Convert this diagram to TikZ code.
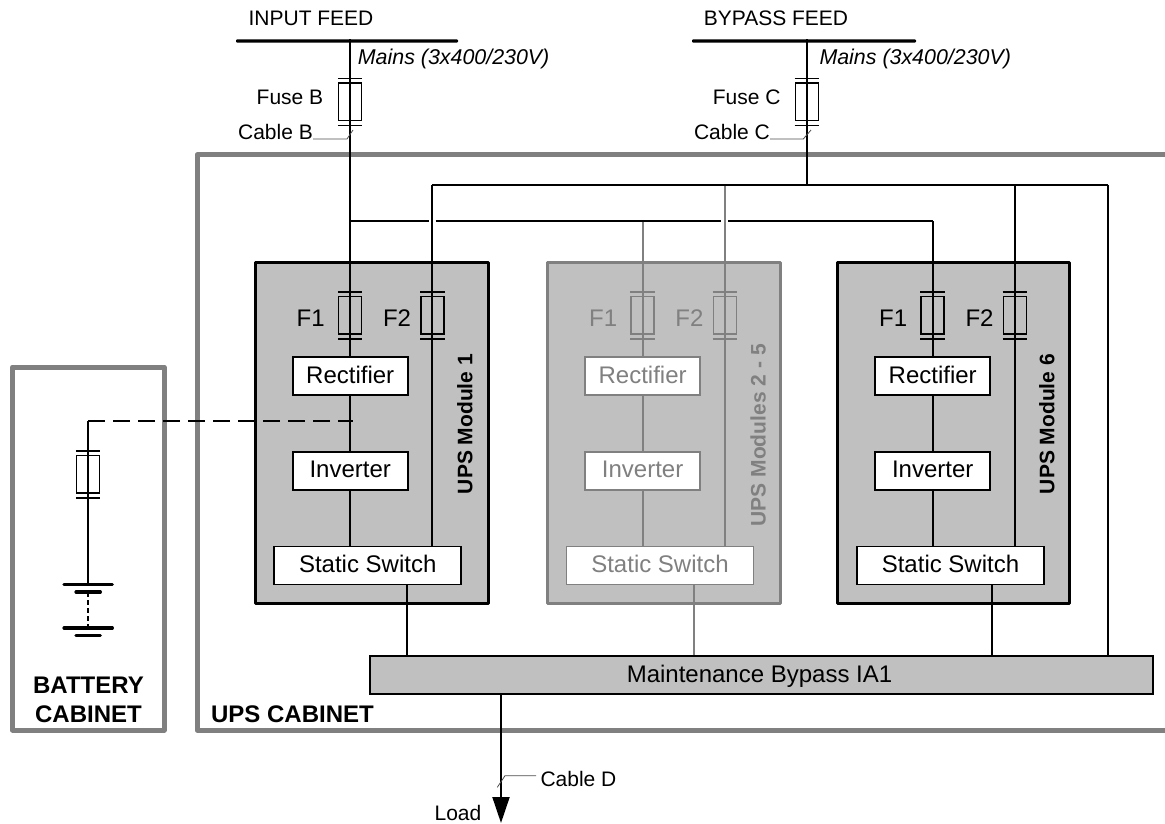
\documentclass[tikz,border=0pt]{standalone}
\usepackage{fontspec}
\setmainfont{Liberation Sans}
\usetikzlibrary{arrows.meta}
\definecolor{framegray}{HTML}{808080}
\definecolor{modfill}{HTML}{C0C0C0}
\newcommand\fsA{\fontsize{21}{24}\selectfont}
\newcommand\fsI{\fontsize{21.4}{24}\selectfont}
\newcommand\fsB{\fontsize{24}{26}\selectfont}
\newcommand\drawfuse[4]{%
  \node[fusebox,draw=#4] (#1) at (#2,#3) {};
  \draw[fusecap,draw=#4] ([yshift=4pt]#1.north west) -- ([yshift=4pt]#1.north east);
  \draw[fusecap,draw=#4] ([yshift=-4pt]#1.south west) -- ([yshift=-4pt]#1.south east);
}
\tikzset{
  x=1pt,y=-1pt,
  cabinet/.style={draw=framegray,line width=5pt,line join=round},
  modbox/.style={fill=modfill,line width=3pt,line join=round,minimum width=232.5pt,minimum height=340.5pt,inner sep=0pt},
  unitbox/.style={fill=white,line width=1.8pt,inner sep=0pt,minimum height=38pt,text height=14pt,text depth=0pt,font=\fsB,align=center},
  fusebox/.style={line width=1.5pt,minimum width=23pt,minimum height=37.5pt,inner sep=0pt},
  fusecap/.style={line width=1.5pt},
  wire/.style={line width=2pt},
  feedbar/.style={fill=black,inner sep=0pt,minimum height=3.2pt,rounded corners=1pt},
  plate/.style={line width=3.2pt,line cap=round},
  leader/.style={line width=0.8pt,draw=black!70},
  lbl/.style={font=\fsA,inner sep=0pt,anchor=base},
  lblit/.style={font=\fsI\itshape,inner sep=0pt,anchor=base west},
  boldlbl/.style={font=\fsB\bfseries,inner sep=0pt,anchor=base},
  unitlbl/.style={font=\fsB,inner sep=0pt,anchor=base},
  sidelbl/.style={font=\fsA\bfseries,inner sep=0pt,anchor=base,rotate=90}
}
\begin{document}
\begin{tikzpicture}
\useasboundingbox (0,0) rectangle (1165,824);
% cabinets
\draw[cabinet] (1170,155) -- (197,155) -- (197,730) -- (1170,730);
\draw[cabinet] (12.5,367) rectangle (164,730);
\node[boldlbl] (batlabA) at (88.5,693) {BATTERY};
\node[boldlbl] (batlabB) at (88.5,722) {CABINET};
\node[boldlbl] (upscab) at (292.5,722) {UPS CABINET};
% feeds
\node[feedbar,minimum width=222pt] (inbar) at (347,41) {};
\node[feedbar,minimum width=224pt] (bybar) at (804,41) {};
\node[lbl] (inlab) at (311,25.3) {INPUT FEED};
\node[lbl] (bylab) at (776,25.3) {BYPASS FEED};
\node[lblit] (mainsA) at (357.7,65) {Mains (3x400/230V)};
\node[lblit] (mainsB) at (819.3,65) {Mains (3x400/230V)};
\node[lbl] (fuseBl) at (290,105) {Fuse B};
\node[lbl] (cableBl) at (275.5,140) {Cable B};
\node[lbl] (fuseCl) at (746.7,105) {Fuse C};
\node[lbl] (cableCl) at (732,140) {Cable C};
\drawfuse{fuseB}{350.2}{102}{black}
\drawfuse{fuseC}{806.9}{102}{black}
% maintenance bypass
\node[draw,fill=modfill,line width=1.8pt,inner sep=0pt,minimum width=783.5pt,minimum height=38pt] (mbp) at (761.5,675) {};
\node[unitlbl] (mbplab) at (759.5,682.3) {Maintenance Bypass IA1};
% modules
\foreach \m/\dx/\cx/\col/\txt/\lx/\ly/\ox/\stx in {
  a/0/371.75/black/UPS Module 1/472.3/424/407/367.7,
  b/292.4/664/framegray/UPS Modules 2 - 5/765.7/435.3/694.3/660,
  c/582.5/953.25/black/UPS Module 6/1054.3/424/991.7/950.5}{
  \node[modbox,draw=\col] (mod\m) at (\cx,432.75) {};
  \node[unitbox,draw=\col,text=\col,minimum width=115pt] (rect\m) at (350.2+\dx,376.2) {Rectifier};
  \node[unitbox,draw=\col,text=\col,minimum width=115pt] (inv\m) at (350.2+\dx,470.7) {Inverter};
  \node[unitbox,draw=\col,text=\col,minimum width=187pt] (sw\m) at (\stx,565.5) {Static Switch};
  \drawfuse{fa\m}{350.2+\dx}{315.4}{\col}
  \drawfuse{fb\m}{432.4+\dx}{315.4}{\col}
  \node[unitlbl,text=\col] (fal\m) at (310.7+\dx,326.7) {F1};
  \node[unitlbl,text=\col] (fbl\m) at (397+\dx,326.7) {F2};
  \node[sidelbl,text=\col] (side\m) at (\lx,\ly) {\txt};
  \coordinate (ja\m) at (350.2+\dx,221);
  \coordinate (jb\m) at (432.4+\dx,185);
  \coordinate (out\m) at (\ox,600);
  \draw[wire,draw=\col] (ja\m) -- (rect\m.north);
  \draw[wire,draw=\col] (rect\m.south) -- (inv\m.north);
  \draw[wire,draw=\col] (inv\m.south) -- (sw\m.north -| rect\m.south);
  \draw[wire,draw=\col] (jb\m) -- (sw\m.north -| jb\m);
  \draw[wire,draw=\col] (sw\m.south -| out\m) -- (mbp.north -| out\m);
}
% input and bypass wiring
\coordinate (gapAl) at (429,221);
\coordinate (gapAr) at (435.5,221);
\coordinate (gapBl) at (721,221);
\coordinate (gapBr) at (728,221);
\coordinate (jby) at (806.9,185);
\coordinate (jright) at (1108,185);
\draw[wire] (inbar.north -| fuseB) -- (jaa);
\draw[wire] (inbar.north -| fuseC) -- (jby);
\draw[wire] (jba) -- (jright);
\draw[wire] (jright) -- (mbp.north -| jright);
\draw[wire] (jaa) -- (gapAl);
\draw[wire] (gapAr) -- (gapBl);
\draw[wire] (gapBr) -- (jac);
% leaders
\coordinate (cbA) at (353,130);
\coordinate (cbB) at (347,139);
\coordinate (ccA) at (811,130);
\coordinate (ccB) at (803.3,139);
\draw[leader] (cbA) -- (cbB) -- (cableBl.base east |- cbB);
\draw[leader] (ccA) -- (ccB) -- (cableCl.base east |- ccB);
% battery
\drawfuse{fuseBat}{88.2}{474.4}{black}
\coordinate (batcorner) at (88.2,421.3);
\coordinate (batjoin) at (352.5,421.3);
\node[inner sep=0pt,minimum width=48pt,minimum height=0pt] (plateA) at (88.2,584.3) {};
\node[inner sep=0pt,minimum width=24pt,minimum height=0pt] (plateB) at (88.2,592) {};
\node[inner sep=0pt,minimum width=48pt,minimum height=0pt] (plateC) at (88.2,628) {};
\node[inner sep=0pt,minimum width=24pt,minimum height=0pt] (plateD) at (88.2,635.3) {};
\draw[plate] (plateA.west) -- (plateA.east);
\draw[plate] (plateB.west) -- (plateB.east);
\draw[plate] (plateC.west) -- (plateC.east);
\draw[plate] (plateD.west) -- (plateD.east);
\draw[wire] (plateA.center) -- (batcorner);
\draw[line width=1.8pt,dash pattern=on 17pt off 8pt] (batcorner) -- (batjoin);
\draw[line width=1.5pt,dash pattern=on 5pt off 3pt] (plateB.center) -- (plateC.center);
% load
\coordinate (loadtip) at (501,823);
\draw[wire,-{Triangle[length=26pt,width=17pt]}] (mbp.south -| loadtip) -- (loadtip);
\node[lbl] (cableDl) at (578.5,786.7) {Cable D};
\node[lbl] (loadl) at (458,820.7) {Load};
\coordinate (cdA) at (497.3,787.3);
\coordinate (cdB) at (505,775.7);
\coordinate (cdC) at (536,775.7);
\draw[leader] (cdA) -- (cdB) -- (cdC);
\end{tikzpicture}
\end{document}
